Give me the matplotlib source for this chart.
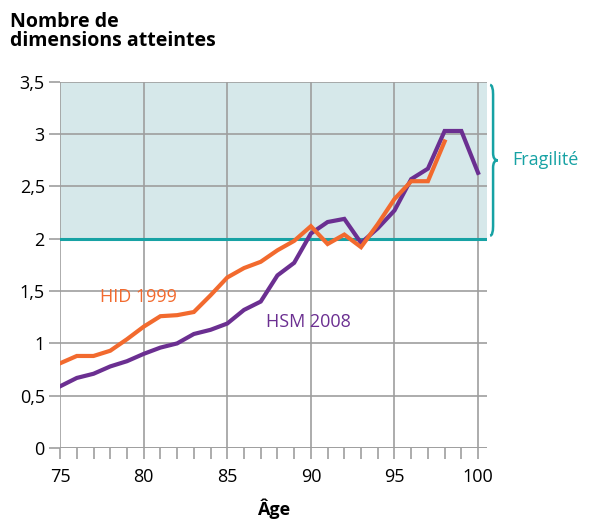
import matplotlib.pyplot as plt
from matplotlib.path import Path
from matplotlib.patches import PathPatch
from matplotlib.transforms import blended_transform_factory
from matplotlib.ticker import FuncFormatter, MultipleLocator

plt.rcParams['font.family'] = ['Open Sans', 'DejaVu Sans']

# données
ages_hid = list(range(75, 99))
hid_1999 = [0.81, 0.88, 0.88, 0.93, 1.04, 1.16, 1.26, 1.27, 1.30, 1.46, 1.63, 1.72, 1.78, 1.89, 1.98, 2.12, 1.95, 2.04, 1.92, 2.14, 2.38, 2.55, 2.55, 2.93]
ages_hsm = list(range(75, 101))
hsm_2008 = [0.59, 0.67, 0.71, 0.78, 0.83, 0.90, 0.96, 1.00, 1.09, 1.13, 1.19, 1.32, 1.40, 1.65, 1.77, 2.05, 2.16, 2.19, 1.96, 2.10, 2.27, 2.57, 2.67, 3.03, 3.03, 2.63]
y_ticks = [0, 0.5, 1, 1.5, 2, 2.5, 3, 3.5]
x_ticks = [75, 80, 85, 90, 95, 100]
seuil_fragilite = 2
y_max = 3.5

orange = '#f26a2e'
violet = '#6b2f91'
teal = '#17a2a4'
gris = '#9e9e9e'

fig = plt.figure(figsize=(5.89, 5.21), dpi=100)
ax = fig.add_axes([0.102, 0.140, 0.725, 0.703])

x_max = 100.54
ax.set_xlim(75, x_max)
ax.set_ylim(0, y_max)

# zone de fragilité
ax.axhspan(seuil_fragilite, y_max, color='#d6e8ea', zorder=0)

ax.set_xticks(x_ticks)
ax.xaxis.set_minor_locator(MultipleLocator(1))
ax.set_yticks(y_ticks)
ax.yaxis.set_major_formatter(FuncFormatter(lambda v, p: ('%g' % v).replace('.', ',')))
ax.grid(True, which='major', color=gris, linewidth=1.2, zorder=1)
for s in ax.spines.values():
    s.set_visible(False)
ax.tick_params(axis='both', length=8, width=1.2, color=gris, labelsize=13, pad=3)
ax.tick_params(axis='x', which='major', pad=6)
ax.tick_params(axis='x', which='minor', length=8, width=1.2, color=gris)
ax.axhline(0, color=gris, linewidth=1.2, zorder=1)

ax.axhline(seuil_fragilite, color=teal, linewidth=2.2, zorder=2)

ax.plot(ages_hid, hid_1999, color=orange, linewidth=3, zorder=4, solid_joinstyle='miter')
ax.plot(ages_hsm, hsm_2008, color=violet, linewidth=3, zorder=3, solid_joinstyle='miter')

ax.text(77.4, 1.44, 'HID 1999', color=orange, fontsize=13, va='center', ha='left')
ax.text(87.3, 1.2, 'HSM 2008', color=violet, fontsize=13, va='center', ha='left')

# accolade "Fragilité"
tr = blended_transform_factory(ax.transAxes, ax.transData)
x0 = 1.014
w = 0.011
verts = [
    (x0 - 0.007, 3.47), (x0, 3.47), (x0, 3.38),
    (x0, 2.82),
    (x0, 2.75), (x0 + w, 2.75),
    (x0, 2.75), (x0, 2.68),
    (x0, 2.12),
    (x0, 2.03), (x0 - 0.007, 2.03),
]
codes = [Path.MOVETO, Path.CURVE3, Path.CURVE3, Path.LINETO,
         Path.CURVE3, Path.CURVE3, Path.CURVE3, Path.CURVE3,
         Path.LINETO, Path.CURVE3, Path.CURVE3]
brace = PathPatch(Path(verts, codes), transform=tr, fill=False, edgecolor=teal,
                  linewidth=1.8, clip_on=False)
ax.add_patch(brace)
ax.text(1.06, 2.75, 'Fragilité', transform=tr, color=teal, fontsize=13,
        va='center', ha='left')

ax.set_xlabel('Âge', fontsize=13, fontweight='bold', labelpad=9)
fig.text(0.017, 0.977, 'Nombre de\ndimensions atteintes', fontsize=14,
         fontweight='bold', va='top', ha='left', linespacing=0.92)

plt.savefig('out.png', dpi=100)
